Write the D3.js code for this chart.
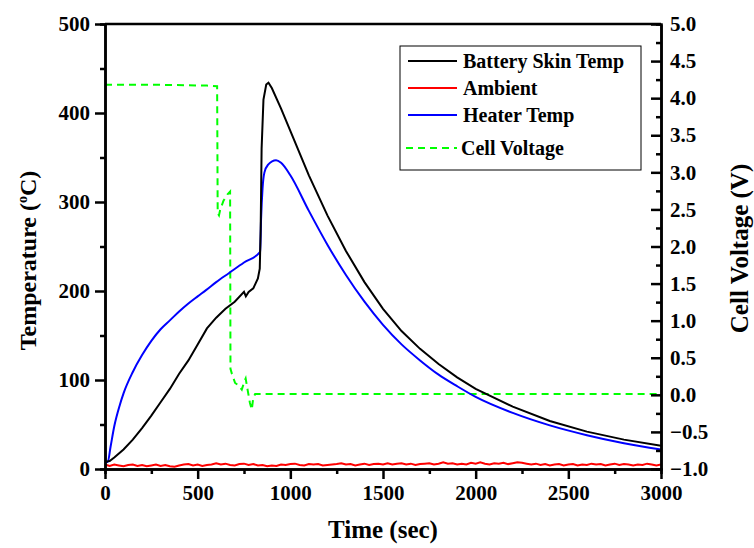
<!DOCTYPE html>
<html>
<head>
<meta charset="utf-8">
<script src="https://cdn.jsdelivr.net/npm/d3@7"></script>
<style>
  body { margin: 0; background: #fff; }
  svg { font-family: "Liberation Serif", "Times New Roman", serif; font-weight: bold; }
</style>
</head>
<body>
<svg id="chart" width="754" height="548"></svg>
<script>
// battery skin temp (black)
const skinTime = [0, 25, 50, 100, 150, 200, 250, 300, 350, 400, 450, 500, 550, 600, 650, 700, 750, 760, 775, 800, 825, 835, 840, 845, 855, 870, 882, 900, 950, 1000, 1100, 1200, 1300, 1400, 1500, 1600, 1700, 1800, 1900, 2000, 2200, 2400, 2600, 2800, 3000];
const skinTemp = [8, 9, 13, 22, 33, 46, 60, 75, 90, 107, 122, 140, 158, 170, 180, 188, 199, 194, 199, 203, 214, 225, 270, 360, 415, 432, 434, 428, 405, 380, 330, 285, 245, 210, 180, 155, 135, 118, 103, 90, 70, 54, 42, 33, 26];

// heater temp (blue)
const heaterTime = [0, 15, 30, 50, 80, 100, 150, 200, 250, 300, 350, 400, 450, 500, 545, 600, 668, 750, 837, 842, 850, 860, 880, 923, 950, 1000, 1100, 1200, 1300, 1400, 1500, 1600, 1700, 1800, 1900, 2000, 2200, 2400, 2600, 2800, 3000];
const heaterTemp = [8, 8, 25, 48, 72, 85, 109, 128, 144, 157, 167, 177, 186, 194, 201, 210, 220, 232, 244, 280, 315, 333, 342, 347, 344, 330, 290, 252, 218, 188, 162, 140, 122, 106, 93, 81, 63, 49, 38, 29, 22];

// ambient (red), sampled every 25 s
const ambientTime = d3.range(0, 3001, 25);
const ambientTemp = [
  5, 3.5, 5, 4, 3, 4.5, 5, 3.5, 4.5, 3,
  4, 5, 3.5, 4.5, 3, 2.5, 4, 5, 5.5, 4,
  5, 3.5, 4.5, 5, 6.5, 5, 6, 4.5, 4, 5.5,
  6, 4.5, 5.5, 4, 4.5, 3, 4, 3.5, 5, 4.5,
  5.5, 6, 4.5, 4, 5.5, 5, 5.5, 4, 4.5, 5,
  5.5, 6.5, 5, 5.5, 4, 5, 6, 4.5, 5.5, 6,
  5, 6.5, 5, 6, 6.5, 5, 6, 4.5, 5.5, 6,
  6.5, 5, 6, 7.5, 6, 6.5, 5, 6, 5, 7,
  6, 7.5, 6, 5, 6.5, 6, 7, 5.5, 6.5, 7.5,
  7, 6, 5, 6, 4.5, 5.5, 4, 5, 5.5, 4,
  5, 5.5, 4, 5, 4.5, 6, 5, 5.5, 4, 5,
  6, 4.5, 5.5, 5, 4, 5, 4.5, 6, 5, 4,
  5
];

// cell voltage (green dashed)
const voltTime = [0, 300, 550, 605, 608, 615, 622, 640, 660, 675, 677, 684, 702, 719, 738, 752, 759, 770, 782, 792, 800, 810, 3000];
const voltValue = [4.18, 4.18, 4.17, 4.16, 2.45, 2.42, 2.5, 2.62, 2.7, 2.74, 0.35, 0.29, 0.16, 0.13, 0.07, 0.18, 0.22, 0.06, -0.11, -0.2, -0.04, 0.01, 0.01];

const timeTicks = [0, 500, 1000, 1500, 2000, 2500, 3000];
const tempTicks = [0, 100, 200, 300, 400, 500];
const voltTicks = [-1.0, -0.5, 0.0, 0.5, 1.0, 1.5, 2.0, 2.5, 3.0, 3.5, 4.0, 4.5, 5.0];

const legendItems = [
  { label: "Battery Skin Temp", color: "#000000", dash: null },
  { label: "Ambient", color: "#ff0000", dash: null },
  { label: "Heater Temp", color: "#0000ff", dash: null },
  { label: "Cell Voltage", color: "#00ff00", dash: "7,5" }
];

const margin = { top: 24, right: 93, bottom: 79, left: 105 };
const width = 754 - margin.left - margin.right;
const height = 548 - margin.top - margin.bottom;

const svg = d3.select("#chart");
const g = svg.append("g").attr("transform", `translate(${margin.left},${margin.top})`);

const x = d3.scaleLinear().domain([0, 3000]).range([0, width]);
const y = d3.scaleLinear().domain([0, 500]).range([height, 0]);
const y2 = d3.scaleLinear().domain([-1, 5]).range([height, 0]);

const zip = (ts, vs) => ts.map((t, i) => [t, vs[i]]);

// curves
const lineT = d3.line().x(d => x(d[0])).y(d => y(d[1]));
const smoothT = d3.line().x(d => x(d[0])).y(d => y(d[1])).curve(d3.curveMonotoneX);
const lineV = d3.line().x(d => x(d[0])).y(d => y2(d[1]));

g.append("path").datum(zip(ambientTime, ambientTemp))
  .attr("fill", "none").attr("stroke", "#ff0000").attr("stroke-width", 2).attr("d", lineT);
g.append("path").datum(zip(voltTime, voltValue))
  .attr("fill", "none").attr("stroke", "#00ff00").attr("stroke-width", 2)
  .attr("stroke-dasharray", "7,5").attr("d", lineV);
g.append("path").datum(zip(heaterTime, heaterTemp))
  .attr("fill", "none").attr("stroke", "#0000ff").attr("stroke-width", 2).attr("d", smoothT);
g.append("path").datum(zip(skinTime, skinTemp))
  .attr("fill", "none").attr("stroke", "#000000").attr("stroke-width", 2).attr("d", lineT);

// axes
function styleAxis(sel) {
  sel.selectAll("path").attr("stroke-width", 2.5);
  sel.selectAll("line").attr("stroke-width", 2.5);
  sel.selectAll("text").style("font-size", "21px").style("font-weight", "bold")
    .style("font-family", "'Liberation Serif', serif");
}

g.append("g").attr("transform", `translate(0,${height})`)
  .call(d3.axisBottom(x).tickValues(d3.range(250, 3000, 500)).tickSize(5).tickFormat(""))
  .call(styleAxis);
g.append("g").attr("transform", `translate(0,${height})`)
  .call(d3.axisBottom(x).tickValues(timeTicks).tickSize(10).tickSizeOuter(0).tickPadding(6)
    .tickFormat(d3.format("d")))
  .call(styleAxis);

g.append("g")
  .call(d3.axisLeft(y).tickValues(d3.range(50, 500, 100)).tickSize(5).tickFormat(""))
  .call(styleAxis);
g.append("g")
  .call(d3.axisLeft(y).tickValues(tempTicks).tickSize(10).tickSizeOuter(0).tickPadding(5))
  .call(styleAxis);

g.append("g").attr("transform", `translate(${width},0)`)
  .call(d3.axisRight(y2).tickValues(d3.range(-0.75, 5, 0.5)).tickSize(-5).tickFormat(""))
  .call(styleAxis);
g.append("g").attr("transform", `translate(${width},0)`)
  .call(d3.axisRight(y2).tickValues(voltTicks).tickSize(-10).tickSizeOuter(0).tickPadding(9)
    .tickFormat(d3.format(".1f")))
  .call(styleAxis);

// top frame
g.append("line").attr("x1", 0).attr("x2", width).attr("y1", 0).attr("y2", 0)
  .attr("stroke", "#000").attr("stroke-width", 2.5);

// axis titles
g.append("text")
  .attr("x", width / 2).attr("y", height + 69)
  .attr("text-anchor", "middle").style("font-size", "25px")
  .text("Time (sec)");

const yTitle = g.append("text")
  .attr("transform", `translate(-69,${height / 2 + 14}) rotate(-90)`)
  .attr("text-anchor", "middle").style("font-size", "24px");
yTitle.append("tspan").text("Temperature (");
yTitle.append("tspan").attr("dy", -9).style("font-size", "14px").text("o");
yTitle.append("tspan").attr("dy", 9).text("C)");

g.append("text")
  .attr("transform", `translate(${width + 87},${height / 2 + 2}) rotate(-90)`)
  .attr("text-anchor", "middle").style("font-size", "25px")
  .text("Cell Voltage (V)");

// legend
const legend = g.append("g").attr("transform", `translate(${400 - margin.left},${46 - margin.top})`);
legend.append("rect").attr("width", 241).attr("height", 124)
  .attr("fill", "#fff").attr("stroke", "#000").attr("stroke-width", 1);
const rowY = [15, 42, 69, 102];
legendItems.forEach((d, i) => {
  const row = legend.append("g").attr("transform", `translate(0,${rowY[i]})`);
  row.append("line").attr("x1", d.dash ? 6 : 8).attr("x2", 57).attr("y1", 0).attr("y2", 0)
    .attr("stroke", d.color).attr("stroke-width", 2)
    .attr("stroke-dasharray", d.dash);
  row.append("text").attr("x", d.dash ? 61 : 63).attr("y", 7)
    .style("font-size", "20px").text(d.label);
});
</script>
</body>
</html>
